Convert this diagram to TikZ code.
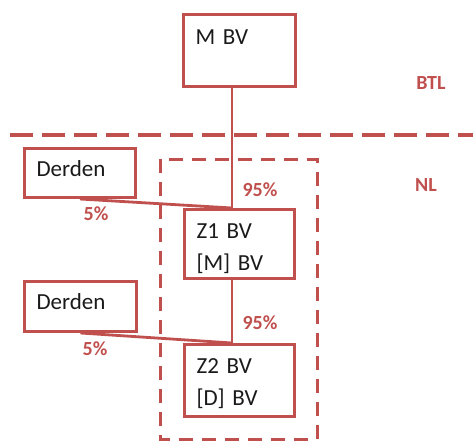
\documentclass[tikz,border=0pt]{standalone}
\usepackage{fontspec}
\setmainfont{Carlito}
\usepackage{xcolor}
\usetikzlibrary{positioning,calc}
\definecolor{bvRed}{HTML}{C0504D}
\definecolor{bvText}{HTML}{1A1A1A}

\begin{document}
\begin{tikzpicture}[x=1pt, y=-1pt,
  bvbox/.style={draw=bvRed, line width=3pt, inner xsep=12pt, inner ysep=0pt,
    anchor=north west, align=left, text=bvText,
    font=\fontsize{23}{32}\selectfont},
  share/.style={text=bvRed, font=\bfseries\fontsize{20}{24}\selectfont},
  link/.style={draw=bvRed, line width=2.8pt}]
\useasboundingbox (0,0) rectangle (473,441);
% ---------- country border ----------
\draw[bvRed, line width=3.2pt, dash pattern=on 23pt off 9pt] (10,135) -- (473,135);
\node[share] (btl) at (431,83) {BTL};
\node[share] (nl) at (426,185) {NL};
% ---------- fiscal unity ----------
\draw[bvRed, line width=3pt, dash pattern=on 14pt off 9pt] (160,159) rectangle (317,439);
% ---------- entities ----------
\node[bvbox, text width=88pt, text height=30pt, text depth=42pt] (mbv) at (182,13) {M BV};
\node[bvbox, text width=87pt, text height=28pt, text depth=21pt] (derden1) at (23,147) {Derden};
\node[bvbox, text width=86pt, text height=29pt, text depth=40pt] (z1) at (183,208) {Z1 BV\\{[M] BV}};
\node[bvbox, text width=88pt, text height=28pt, text depth=22pt] (derden2) at (23,280) {Derden};
\node[bvbox, text width=86pt, text height=29pt, text depth=43pt] (z2) at (183,343) {Z2 BV\\{[D] BV}};
% ---------- shareholdings ----------
\coordinate (trunk) at (232,0);
\draw[link] (mbv.south -| trunk) -- (z1.north -| trunk);
\draw[link] (z1.south -| trunk) -- (z2.north -| trunk);
\draw[link] (derden1.south) -- (z1.north -| trunk);
\draw[link] (derden2.south) -- (z2.north -| trunk);
\node[share] (p95a) at (260,190) {95\%};
\node[share] (p5a) at (96,214) {5\%};
\node[share] (p95b) at (260,323) {95\%};
\node[share] (p5b) at (95,349) {5\%};
\end{tikzpicture}
\end{document}
